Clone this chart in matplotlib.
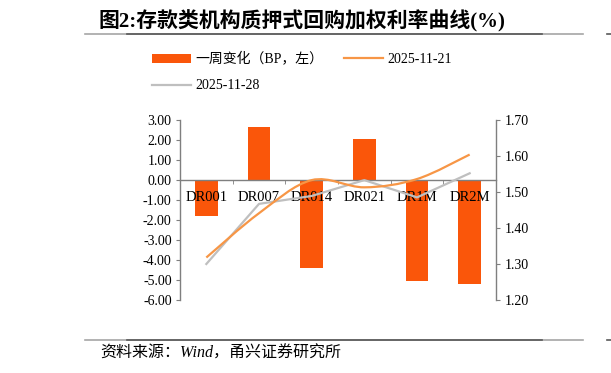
import numpy as np
import matplotlib
matplotlib.use('Agg')
import matplotlib.pyplot as plt
from matplotlib.lines import Line2D
from matplotlib.patches import Patch, PathPatch
from matplotlib.path import Path
from matplotlib.ticker import FormatStrFormatter, MultipleLocator, FixedLocator

plt.rcParams['font.family'] = ['Liberation Serif', 'Noto Sans CJK SC']
plt.rcParams['axes.unicode_minus'] = False

# data
categories = ['DR001', 'DR007', 'DR014', 'DR021', 'DR1M', 'DR2M']
weekly_change = [-1.80, 2.65, -4.42, 2.05, -5.05, -5.18]     # BP, left axis
rate_1121 = [1.318, 1.441, 1.533, 1.513, 1.536, 1.604]        # right axis
rate_1128 = [1.300, 1.467, 1.489, 1.533, 1.485, 1.552]        # right axis

bar_color = '#FA560A'
orange = '#F79646'
grey = '#BFBFBF'
axis_color = '#7F7F7F'

W, H = 611, 373
fig = plt.figure(figsize=(W / 100, H / 100), dpi=100)

# axes box in pixels: x 180..496, y 120..300
ax = fig.add_axes([180 / W, 1 - 300 / H, 316 / W, 180 / H])
ax2 = ax.twinx()

x = np.arange(len(categories))
ax.bar(x, weekly_change, width=0.43, color=bar_color, zorder=1)

ax.set_xlim(-0.5, len(categories) - 0.5)
ax.set_ylim(-6, 3)
ax.yaxis.set_major_locator(MultipleLocator(1))
ax.yaxis.set_major_formatter(FormatStrFormatter('%.2f'))

ax.set_xticks(x)
ax.set_xticklabels(categories)
ax.xaxis.set_minor_locator(FixedLocator(np.arange(0.5, len(categories) - 1, 1)))
ax.tick_params(axis='x', which='major', length=0, pad=8, labelsize=10.5)
ax.tick_params(axis='x', which='minor', length=3, direction='out', color=axis_color)
ax.tick_params(axis='y', length=3, direction='out', color=axis_color, labelsize=10, pad=3)

ax.spines['bottom'].set_position(('data', 0))
for side in ['top', 'right']:
    ax.spines[side].set_visible(False)
for side in ['left', 'bottom']:
    ax.spines[side].set_color(axis_color)
    ax.spines[side].set_linewidth(1.0)


def smooth_path(xs, ys):
    # Excel-like smoothed line: cubic bezier through every point
    pts = np.column_stack([xs, ys]).astype(float)
    n = len(pts)
    verts = [pts[0]]
    codes = [Path.MOVETO]
    for i in range(n - 1):
        p0 = pts[i - 1] if i > 0 else pts[i]
        p1 = pts[i]
        p2 = pts[i + 1]
        p3 = pts[i + 2] if i + 2 < n else pts[i + 1]
        verts += [p1 + (p2 - p0) / 6, p2 - (p3 - p1) / 6, p2]
        codes += [Path.CURVE4] * 3
    return Path(verts, codes)


ax2.add_patch(PathPatch(smooth_path(x, rate_1121), fill=False, edgecolor=orange, lw=1.6, zorder=3))
ax2.plot(x, rate_1128, color=grey, lw=1.6, zorder=2)

ax2.set_ylim(1.2, 1.7)
ax2.yaxis.set_major_locator(MultipleLocator(0.1))
ax2.yaxis.set_major_formatter(FormatStrFormatter('%.2f'))
ax2.tick_params(axis='y', length=3, direction='out', color=axis_color, labelsize=10, pad=3)
for side in ['top', 'bottom', 'left']:
    ax2.spines[side].set_visible(False)
ax2.spines['right'].set_color(axis_color)
ax2.spines['right'].set_linewidth(1.0)

# legend (column-major fill: bar + grey in col 1, orange in col 2)
handles = [Patch(facecolor=bar_color, edgecolor='none'),
           Line2D([], [], color=grey, lw=1.6),
           Line2D([], [], color=orange, lw=1.6)]
labels = ['一周变化（BP，左）', '2025-11-28', '2025-11-21']
fig.legend(handles, labels, loc='upper left', bbox_to_anchor=(152 / W, 1 - 52 / H),
           ncol=2, frameon=False, fontsize=10, handlelength=2.8, handleheight=0.6,
           handletextpad=0.3, columnspacing=1.5, labelspacing=0.95,
           borderpad=0, borderaxespad=0)

# title and rules
fig.text(98 / W, 1 - 21 / H, '图2:存款类机构质押式回购加权利率曲线(%)',
         fontsize=15, fontweight='bold', va='center', ha='left')


def rule(y):
    yy = 1 - y / H
    fig.add_artist(Line2D([85 / W, 583 / W], [yy, yy], color='#A6A6A6', lw=1.2))
    fig.add_artist(Line2D([127 / W, 542 / W], [yy, yy], color='#595959', lw=1.2))
    fig.add_artist(Line2D([607 / W, 1], [yy, yy], color='#595959', lw=1.2))


rule(34)
rule(340)

fig.text(100 / W, 1 - 354 / H, '资料来源：Wind，甬兴证券研究所',
         fontsize=11.5, style='italic', va='center', ha='left')

fig.savefig('out.png', dpi=100)
